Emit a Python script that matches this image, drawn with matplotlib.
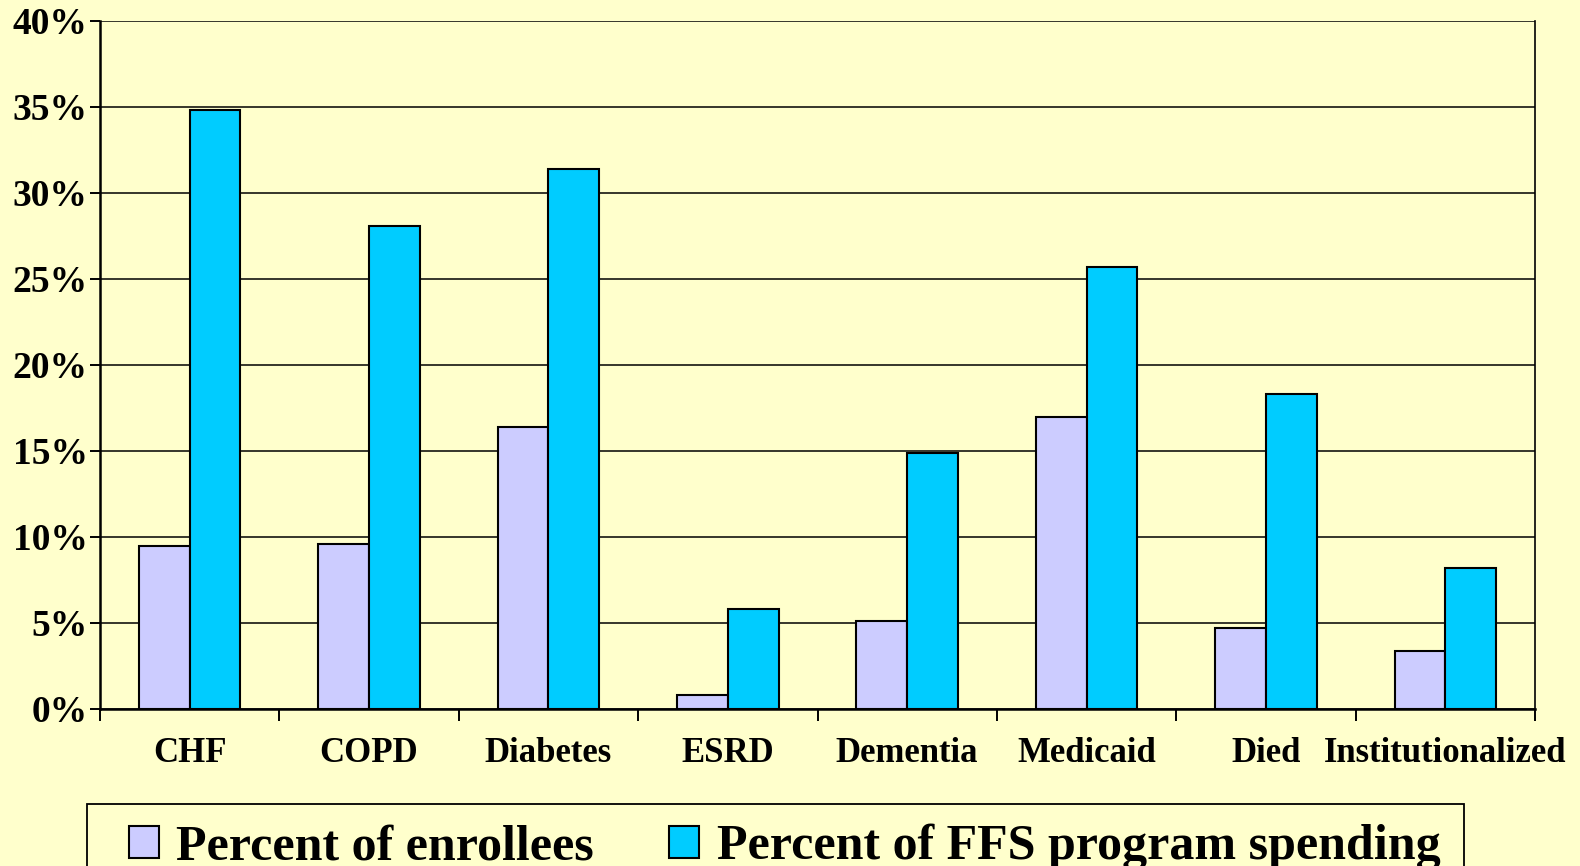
import numpy as np
import matplotlib
matplotlib.use("Agg")
import matplotlib.pyplot as plt
from matplotlib.patches import Rectangle
from matplotlib.ticker import FuncFormatter, MultipleLocator

categories = ["CHF", "COPD", "Diabetes", "ESRD", "Dementia", "Medicaid", "Died", "Institutionalized"]
enrollees = [9.5, 9.6, 16.4, 0.8, 5.1, 17.0, 4.7, 3.4]
spending = [34.8, 28.1, 31.4, 5.8, 14.9, 25.7, 18.3, 8.2]
series_names = ["Percent of enrollees", "Percent of FFS program spending"]

bg = "#FFFFCC"
plt.rcParams["font.family"] = ["Liberation Serif", "DejaVu Serif"]
plt.rcParams["font.weight"] = "bold"

W, H = 1580, 866
fig = plt.figure(figsize=(W / 100, H / 100), dpi=100, facecolor=bg)
ax = fig.add_axes([100 / W, 1 - 709 / H, 1435 / W, 688 / H], facecolor=bg)

x = np.arange(len(categories))
w = 0.283
ax.bar(x - w / 2, enrollees, w, color="#CCCCFF", edgecolor="black", linewidth=1.5, zorder=3, label=series_names[0])
ax.bar(x + w / 2, spending, w, color="#00CCFF", edgecolor="black", linewidth=1.5, zorder=3, label=series_names[1])

ax.set_xlim(-0.5, len(categories) - 0.5)
ax.set_ylim(0, 40)
ax.yaxis.set_major_locator(MultipleLocator(5))
ax.yaxis.set_major_formatter(FuncFormatter(lambda v, p: f"{v:.0f}%"))
ax.grid(axis="y", color="black", linewidth=1.1, zorder=0)

# category boundary ticks, labels in the middle
ax.set_xticks(np.arange(len(categories) + 1) - 0.5)
ax.set_xticklabels([])
ax.set_xticks(x, minor=True)
ax.set_xticklabels(categories, minor=True, fontsize=25, fontweight="bold")
ax.tick_params(axis="x", which="major", direction="out", length=8.5, width=1.4)
ax.tick_params(axis="x", which="minor", length=0, pad=20)
ax.tick_params(axis="y", direction="out", length=7, width=1.4, labelsize=27, pad=2)
for t in ax.get_yticklabels():
    t.set_fontweight("bold")

ax.spines["left"].set_linewidth(1.8)
ax.spines["bottom"].set_linewidth(1.8)
ax.spines["right"].set_linewidth(1.2)
ax.spines["top"].set_visible(False)

# legend box, runs off the bottom edge
fig.patches.append(Rectangle((87 / W, -0.05), (1464 - 87) / W, 0.05 + 1 - 804 / H,
                             transform=fig.transFigure, facecolor=bg, edgecolor="black",
                             linewidth=1.3, zorder=1))
leg = fig.legend(loc="upper left", bbox_to_anchor=(129 / W, 1 - 824 / H), ncol=2,
                 prop={"size": 36, "weight": "bold"}, frameon=False,
                 handlelength=0.6, handleheight=0.6, handletextpad=0.35,
                 columnspacing=1.5, borderpad=0, borderaxespad=0)

fig.savefig("out.png", dpi=100, facecolor=bg)
